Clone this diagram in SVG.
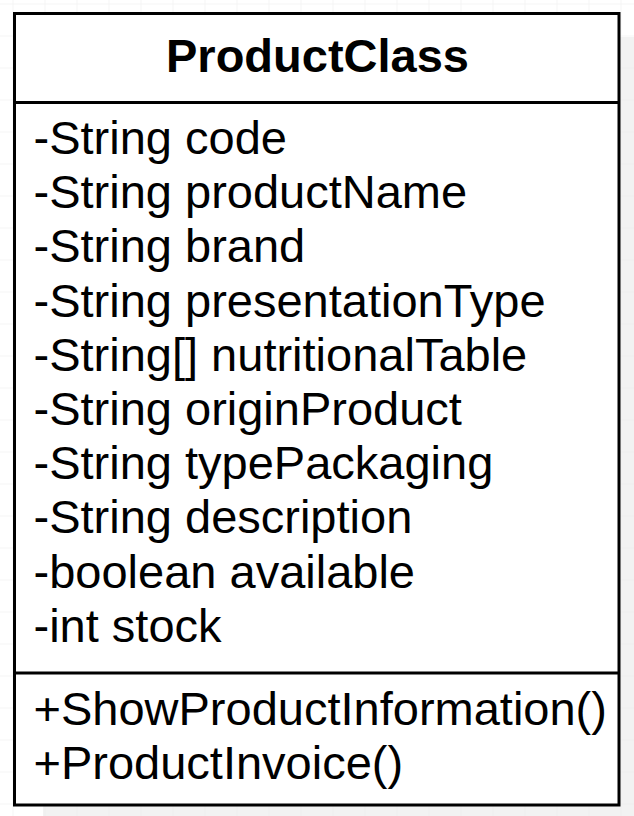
<svg xmlns="http://www.w3.org/2000/svg" width="634" height="816" viewBox="0 0 634 816">
  <defs>
    <pattern id="grid" x="12.5" y="3.5" width="32" height="32" patternUnits="userSpaceOnUse">
      <path d="M0 0H32M0 0V32" fill="none" stroke="#ebebeb" stroke-width="1"/>
    </pattern>
    <style>
      .box { fill: #ffffff; stroke: #000000; stroke-width: 3; }
      .sep { stroke: #000000; stroke-width: 3; }
      .title { font-family: "Liberation Sans", Arial, sans-serif; font-weight: bold; font-size: 47px; fill: #000000; }
      .attr { font-family: "Liberation Sans", Arial, sans-serif; font-size: 47px; fill: #000000; }
    </style>
  </defs>
  <rect x="0" y="0" width="634" height="816" fill="#ffffff"/>
  <rect x="43" y="37" width="591" height="779" fill="#f2f2f2"/>
  <rect x="0" y="0" width="634" height="816" fill="url(#grid)"/>
  <g id="ProductClass">
    <rect class="box" x="14.5" y="13.5" width="604.5" height="791.5"/>
    <line class="sep" x1="14.5" y1="102.5" x2="619" y2="102.5"/>
    <line class="sep" x1="14.5" y1="673" x2="619" y2="673"/>
    <text class="title" x="317.5" y="72" text-anchor="middle">ProductClass</text>
    <text class="attr" x="33.5" y="154">-String code</text>
    <text class="attr" x="33.5" y="208.2">-String productName</text>
    <text class="attr" x="33.5" y="262.4">-String brand</text>
    <text class="attr" x="33.5" y="316.6">-String presentationType</text>
    <text class="attr" x="33.5" y="370.8">-String[] nutritionalTable</text>
    <text class="attr" x="33.5" y="425">-String originProduct</text>
    <text class="attr" x="33.5" y="479.2">-String typePackaging</text>
    <text class="attr" x="33.5" y="533.4">-String description</text>
    <text class="attr" x="33.5" y="587.6">-boolean available</text>
    <text class="attr" x="33.5" y="641.8">-int stock</text>
    <text class="attr" x="33.5" y="725">+ShowProductInformation()</text>
    <text class="attr" x="33.5" y="779">+ProductInvoice()</text>
  </g>
  <g id="connectors"/>
</svg>
